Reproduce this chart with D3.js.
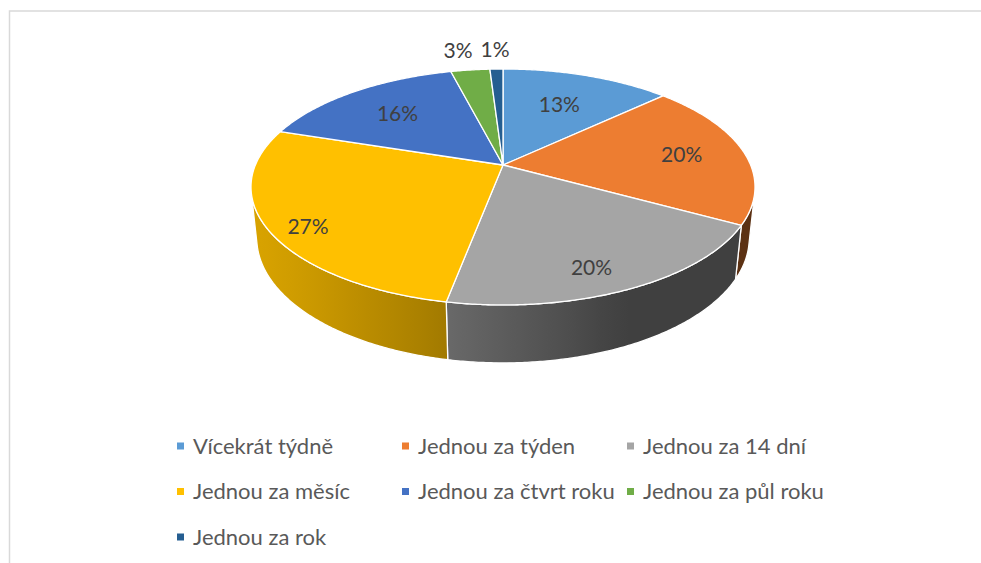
<!DOCTYPE html>
<html><head><meta charset="utf-8">
<script src="https://cdn.jsdelivr.net/npm/d3@7"></script>
<style>html,body{margin:0;padding:0;background:#fff;} svg{display:block;font-family:Lato,"Open Sans",sans-serif;}</style>
</head><body><svg id="chart" width="981" height="563"></svg>
<script>
// ---- data ----
const categories = ["Vícekrát týdně","Jednou za týden","Jednou za 14 dní","Jednou za měsíc","Jednou za čtvrt roku","Jednou za půl roku","Jednou za rok"];
const values = [13,20,20,27,16,3,1];
const colors = ["#5B9BD5","#ED7D31","#A5A5A5","#FFC000","#4472C4","#70AD47","#255E91"];
const labelFormat = v => v + "%";

// ---- geometry (perspective 3D pie) ----
const cx = 503, cy = 165, F = 1181, D = 4.77;
const alpha = Math.asin(0.46), sa = Math.sin(alpha), ca = Math.cos(alpha);
const thick = 0.235;
const svg = d3.select("#chart");

function proj(theta, r, Y) {
  const X = r * Math.sin(theta), Z = r * Math.cos(theta);
  const depth = D + Z * ca - Y * sa;
  const up = Y * ca + Z * sa;
  return [cx + F * X / depth, cy - F * up / depth];
}
function arcPts(a0, a1, r, Y) {
  const n = Math.max(2, Math.ceil(Math.abs(a1 - a0) / (Math.PI / 360)));
  return d3.range(n + 1).map(i => proj(a0 + (a1 - a0) * i / n, r, Y));
}
const shade = th => Math.max(0.39, 0.415 + 0.43 * Math.cos(th - 250 * Math.PI / 180));
function shadeColor(c, s) {
  const k = d3.rgb(c);
  return d3.rgb(k.r * s, k.g * s, k.b * s).formatHex();
}

const pie = d3.pie().sort(null).value(d => d);
const arcs = pie(values);
const line = d3.line();

// border
svg.append("rect").attr("x", 9.5).attr("y", 11).attr("width", 1000).attr("height", 600)
  .attr("fill", "none").attr("stroke", "#d9d9d9").attr("stroke-width", 1.5);

const defs = svg.append("defs");
const thS = Math.acos(-1 / (D * ca));
const thE = 2 * Math.PI - thS;

// sides
const gSide = svg.append("g");
arcs.forEach((a, i) => {
  const s0 = Math.max(a.startAngle, thS), s1 = Math.min(a.endAngle, thE);
  if (s0 >= s1) return;
  const top = arcPts(s0, s1, 1, 0);
  const bot = arcPts(s1, s0, 1, -thick);
  const xs = top.map(p => p[0]);
  const xmin = d3.min(xs), xmax = d3.max(xs);
  const gid = "side" + i;
  const grad = defs.append("linearGradient").attr("id", gid)
    .attr("gradientUnits", "userSpaceOnUse")
    .attr("x1", xmin).attr("x2", xmax).attr("y1", 0).attr("y2", 0);
  const nS = 12;
  const stops = d3.range(nS + 1).map(j => {
    const th = s0 + (s1 - s0) * j / nS;
    const p = proj(th, 1, 0);
    return {o: (xmax - xmin) > 0 ? (p[0] - xmin) / (xmax - xmin) : 0, c: shadeColor(colors[i], shade(th))};
  }).sort((p, q) => p.o - q.o);
  stops.forEach(s => grad.append("stop").attr("offset", s.o).attr("stop-color", s.c));
  gSide.append("path").attr("d", line(top.concat(bot)) + "Z")
    .attr("fill", `url(#${gid})`).attr("stroke", "#fff").attr("stroke-width", 1.3)
    .attr("stroke-linejoin", "round");
});

// top faces
const gTop = svg.append("g");
arcs.forEach((a, i) => {
  const pts = [proj(0, 0, 0)].concat(arcPts(a.startAngle, a.endAngle, 1, 0));
  gTop.append("path").attr("d", line(pts) + "Z")
    .attr("fill", colors[i]).attr("stroke", "#fff").attr("stroke-width", 1.3)
    .attr("stroke-linejoin", "round");
});

// data labels
const gLab = svg.append("g").attr("font-size", 21).attr("fill", "#404040").attr("text-anchor", "middle");
const outside = [];
arcs.forEach((a, i) => {
  const mid = (a.startAngle + a.endAngle) / 2;
  const v = values[i];
  const inside = v >= 5;
  const r = inside ? 0.44 + 0.015 * v : 1.25;
  const Y = inside ? -thick * 0.3 * Math.max(0, -Math.cos(mid)) : 0;
  const p = proj(mid, r, Y);
  const t = gLab.append("text").attr("x", p[0]).attr("y", p[1]).attr("dy", "0.35em").text(labelFormat(v));
  if (!inside) outside.push({t, x: p[0], w: t.node().getComputedTextLength()});
});
outside.sort((a, b) => b.x - a.x);
for (let j = 1; j < outside.length; j++) {
  const R = outside[j - 1], L = outside[j];
  const minD = (R.w + L.w) / 2 + 8;
  if (R.x - L.x < minD) { L.x = R.x - minD; L.t.attr("x", L.x); }
}

// legend
const legX0 = 177, colPitch = 225, legY0 = 446, rowPitch = 45.5, perRow = 3;
const gLeg = svg.append("g").attr("font-size", 22).attr("fill", "#595959");
categories.forEach((c, i) => {
  const x = legX0 + (i % perRow) * colPitch;
  const y = legY0 + Math.floor(i / perRow) * rowPitch;
  gLeg.append("rect").attr("x", x).attr("y", y - 3.5).attr("width", 7).attr("height", 7).attr("fill", colors[i]);
  gLeg.append("text").attr("x", x + 16).attr("y", y).attr("dy", "0.35em").text(c);
});
</script></body></html>
